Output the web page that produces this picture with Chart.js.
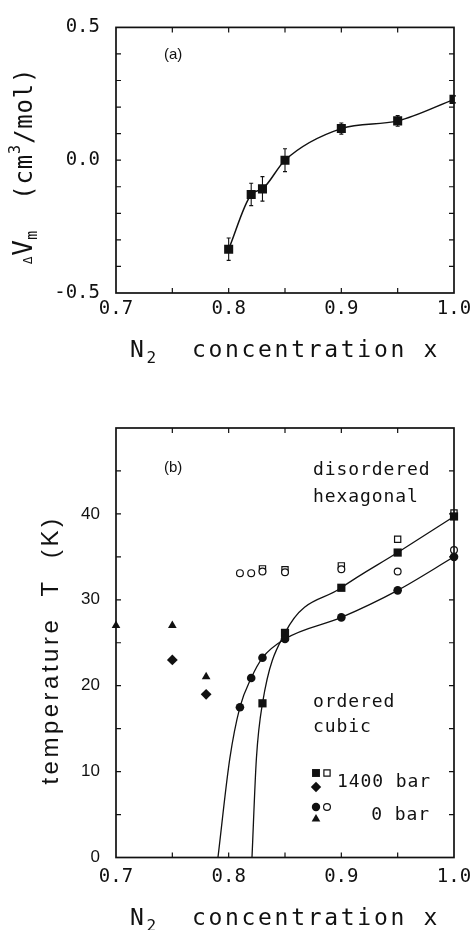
<!DOCTYPE html>
<html>
<head>
<meta charset="utf-8">
<script src="https://cdn.jsdelivr.net/npm/chart.js@4.4.0/dist/chart.umd.min.js"></script>
<style>
  html, body { margin: 0; padding: 0; background: #fff; }
  #page { position: relative; width: 472px; height: 930px; }
  #chartA { position: absolute; left: 0; top: 0; }
  #chartB { position: absolute; left: 0; top: 400px; }
</style>
</head>
<body>
<div id="page">
  <canvas id="chartA" width="472" height="380"></canvas>
  <canvas id="chartB" width="472" height="530"></canvas>
</div>
<script>
// ---- data ----

// (a) excess molar volume vs N2 concentration
const dvX = [0.80, 0.82, 0.83, 0.85, 0.90, 0.95, 1.00];
const dvY = [-0.335, -0.129, -0.108, 0.000, 0.119, 0.148, 0.229];
const dvErr = [0.042, 0.042, 0.046, 0.043, 0.021, 0.020, 0.013];

// (b) phase diagram, 0 bar
const x0Filled = [0.81, 0.82, 0.83, 0.85, 0.90, 0.95, 1.00];
const t0Filled = [17.5, 20.9, 23.25, 25.45, 27.95, 31.1, 35.0];
const x0Open = [0.81, 0.82, 0.83, 0.85, 0.90, 0.95, 1.00];
const t0Open = [33.1, 33.1, 33.3, 33.2, 33.55, 33.3, 35.8];
const xTri = [0.70, 0.75, 0.78];
const tTri = [27.0, 27.0, 21.05];

// (b) phase diagram, 1400 bar
const x1400Filled = [0.83, 0.85, 0.90, 0.95, 1.00];
const t1400Filled = [17.95, 26.15, 31.4, 35.5, 39.7];
const x1400Open = [0.83, 0.85, 0.90, 0.95, 1.00];
const t1400Open = [33.6, 33.5, 33.95, 37.05, 40.1];
const xDia = [0.75, 0.78];
const tDia = [23.0, 19.0];

// drawn phase boundaries (traced)
const xCurve0 = [0.7905, 0.801, 0.81, 0.82, 0.83, 0.85, 0.90, 0.95, 1.00];
const tCurve0 = [0, 11.5, 17.5, 20.9, 23.25, 25.45, 27.95, 31.1, 35.0];
const xCurve1400 = [0.8207, 0.8246, 0.83, 0.85, 0.90, 0.95, 1.00];
const tCurve1400 = [0, 11.5, 17.95, 26.15, 31.4, 35.5, 39.7];

// axes
const xTicks = [0.7, 0.8, 0.9, 1.0];
const xMarks = [0.75, 0.8, 0.85, 0.9, 0.95];
const dvTicks = [-0.5, 0.0, 0.5];
const dvMarks = [-0.4, -0.3, -0.2, -0.1, 0.0, 0.1, 0.2, 0.3, 0.4];
const tTicks = [0, 10, 20, 30, 40];
const tMarks = [5, 10, 15, 20, 25, 30, 35, 40, 45];

// ---- styling ----
const INK = '#111';
const MONO = '"DejaVu Sans Mono", monospace';
const SANS = '"Liberation Sans", Arial, sans-serif';
const TICK = 5;

const pts = (xs, ys) => xs.map((x, i) => ({ x: x, y: ys[i] }));

// draw text piece by piece, with letter spacing and sub/superscripts
function drawRich(ctx, pieces, x, y, align) {
    let w = 0;
    pieces.forEach(p => {
        ctx.font = p.font;
        for (const ch of p.text) w += ctx.measureText(ch).width + (p.sp || 0);
    });
    let cx = align === 'center' ? x - w / 2 : align === 'right' ? x - w : x;
    pieces.forEach(p => {
        ctx.font = p.font;
        for (const ch of p.text) {
            ctx.fillText(ch, cx, y + (p.dy || 0));
            cx += ctx.measureText(ch).width + (p.sp || 0);
        }
    });
}

// box with inward ticks on all four sides
function framePlugin(xm, ym) {
    return {
        id: 'frame',
        afterDatasetsDraw(chart) {
            const { ctx, chartArea: a, scales: { x, y } } = chart;
            ctx.save();
            ctx.strokeStyle = INK;
            ctx.lineWidth = 1.2;
            ctx.beginPath();
            xm.forEach(v => {
                const px = x.getPixelForValue(v);
                ctx.moveTo(px, a.bottom); ctx.lineTo(px, a.bottom - TICK);
                ctx.moveTo(px, a.top); ctx.lineTo(px, a.top + TICK);
            });
            ym.forEach(v => {
                const py = y.getPixelForValue(v);
                ctx.moveTo(a.left, py); ctx.lineTo(a.left + TICK, py);
                ctx.moveTo(a.right, py); ctx.lineTo(a.right - TICK, py);
            });
            ctx.stroke();
            ctx.lineWidth = 1.7;
            ctx.strokeRect(a.left, a.top, a.right - a.left, a.bottom - a.top);
            ctx.restore();
        }
    };
}

// text notes + axis titles
function textPlugin(draw) {
    return {
        id: 'texts',
        afterDraw(chart) {
            const ctx = chart.ctx;
            ctx.save();
            ctx.fillStyle = INK;
            ctx.textBaseline = 'alphabetic';
            ctx.textAlign = 'left';
            draw(ctx, chart);
            ctx.restore();
        }
    };
}

function axisX(h, pad) {
    return {
        type: 'linear', min: 0.7, max: 1.0,
        afterBuildTicks: s => { s.ticks = xTicks.map(v => ({ value: v })); },
        afterFit: s => { s.height = h; s.paddingLeft = 0; s.paddingRight = 0; },
        grid: { display: false, drawTicks: false },
        border: { display: false },
        ticks: {
            callback: v => v.toFixed(1), color: INK, maxRotation: 0, autoSkip: false,
            padding: pad, font: { family: MONO, size: 19 }
        }
    };
}

function axisY(min, max, ticks, fmt, font) {
    return {
        type: 'linear', min: min, max: max,
        afterBuildTicks: s => { s.ticks = ticks.map(v => ({ value: v })); },
        afterFit: s => { s.width = 116; },
        grid: { display: false, drawTicks: false },
        border: { display: false },
        ticks: { callback: fmt, color: INK, padding: 16, font: font }
    };
}

const baseOptions = {
    responsive: false,
    animation: false,
    events: [],
    plugins: { legend: { display: false }, tooltip: { enabled: false } }
};

// ---- (a) ----
const errorBars = {
    id: 'errorBars',
    afterDatasetsDraw(chart) {
        const { ctx, scales: { x, y } } = chart;
        ctx.save();
        ctx.strokeStyle = INK;
        ctx.lineWidth = 1.1;
        ctx.beginPath();
        dvX.forEach((v, i) => {
            const px = x.getPixelForValue(v);
            const lo = y.getPixelForValue(dvY[i] - dvErr[i]);
            const hi = y.getPixelForValue(dvY[i] + dvErr[i]);
            ctx.moveTo(px, lo); ctx.lineTo(px, hi);
            ctx.moveTo(px - 2, lo); ctx.lineTo(px + 2, lo);
            ctx.moveTo(px - 2, hi); ctx.lineTo(px + 2, hi);
        });
        ctx.stroke();
        ctx.restore();
    }
};

new Chart(document.getElementById('chartA'), {
    type: 'scatter',
    data: {
        datasets: [
            {
                data: pts(dvX, dvY), showLine: true, pointRadius: 0,
                borderColor: INK, borderWidth: 1.5, cubicInterpolationMode: 'monotone'
            },
            {
                data: pts(dvX, dvY), showLine: false, pointStyle: 'rect', pointRadius: 6.4,
                backgroundColor: INK, borderColor: INK, borderWidth: 0
            }
        ]
    },
    options: Object.assign({}, baseOptions, {
        layout: { padding: { top: 14, right: 18, left: 0, bottom: 0 } },
        scales: {
            x: axisX(87, 5),
            y: axisY(-0.5, 0.5, dvTicks, v => v.toFixed(1), { family: MONO, size: 19 })
        }
    }),
    plugins: [
        errorBars,
        framePlugin(xMarks, dvMarks),
        textPlugin((ctx, chart) => {
            const a = chart.chartArea;
            ctx.font = '15px ' + SANS;
            ctx.fillText('(a)', 164, 59);
            const big = '23px ' + MONO, sub = '16px ' + MONO;
            drawRich(ctx, [
                { text: 'N', font: big, sp: 2.7 },
                { text: '2', font: sub, dy: 6, sp: 2.7 },
                { text: '  concentration x', font: big, sp: 2.7 }
            ], (a.left + a.right) / 2, 357, 'center');
            ctx.translate(32, 166);
            ctx.rotate(-Math.PI / 2);
            const yb = '24px ' + MONO, ys = '15px ' + MONO;
            drawRich(ctx, [
                { text: 'Δ', font: '13px ' + MONO, sp: 0.5 },
                { text: 'V', font: '26px ' + MONO, sp: 0.5 },
                { text: 'm', font: ys, dy: 5, sp: 0.5 },
                { text: '  (cm', font: yb, sp: 0.8 },
                { text: '3', font: ys, dy: -12, sp: 0.8 },
                { text: '/mol)', font: yb, sp: 0.8 }
            ], 0, 0, 'center');
        })
    ]
});

// ---- (b) ----
const legendItems = [
    { x: 316, y: 373, style: 'rect', r: 5.6, fill: true },
    { x: 327, y: 373, style: 'rect', r: 4.4, fill: false },
    { x: 316, y: 387, style: 'rectRot', r: 5.2, fill: true },
    { x: 316, y: 407, style: 'circle', r: 4.2, fill: true },
    { x: 327, y: 407, style: 'circle', r: 3.4, fill: false },
    { x: 316, y: 419, style: 'triangle', r: 5, fill: true }
];

new Chart(document.getElementById('chartB'), {
    type: 'scatter',
    data: {
        datasets: [
            {
                data: pts(xCurve0, tCurve0), showLine: true, pointRadius: 0,
                borderColor: INK, borderWidth: 1.3, cubicInterpolationMode: 'monotone'
            },
            {
                data: pts(xCurve1400, tCurve1400), showLine: true, pointRadius: 0,
                borderColor: INK, borderWidth: 1.3, cubicInterpolationMode: 'monotone'
            },
            {
                data: pts(x0Open, t0Open), pointStyle: 'circle', pointRadius: 3.4,
                backgroundColor: '#fff', borderColor: INK, borderWidth: 1.2, clip: false
            },
            {
                data: pts(x1400Open, t1400Open), pointStyle: 'rect', pointRadius: 4.4,
                backgroundColor: 'rgba(255,255,255,0)', borderColor: INK, borderWidth: 1.2, clip: false
            },
            {
                data: pts(x0Filled, t0Filled), pointStyle: 'circle', pointRadius: 4.3,
                backgroundColor: INK, borderColor: INK, borderWidth: 0, clip: false
            },
            {
                data: pts(x1400Filled, t1400Filled), pointStyle: 'rect', pointRadius: 5.8,
                backgroundColor: INK, borderColor: INK, borderWidth: 0, clip: false
            },
            {
                data: pts(xTri, tTri), pointStyle: 'triangle', pointRadius: 5,
                backgroundColor: INK, borderColor: INK, borderWidth: 0, clip: false
            },
            {
                data: pts(xDia, tDia), pointStyle: 'rectRot', pointRadius: 5.4,
                backgroundColor: INK, borderColor: INK, borderWidth: 0, clip: false
            }
        ]
    },
    options: Object.assign({}, baseOptions, {
        layout: { padding: { top: 28, right: 18, left: 0, bottom: 0 } },
        scales: {
            x: axisX(72.5, 8),
            y: axisY(0, 50, tTicks, v => String(v), { family: SANS, size: 17 })
        }
    }),
    plugins: [
        framePlugin(xMarks, tMarks),
        textPlugin((ctx, chart) => {
            const a = chart.chartArea;
            ctx.font = '15px ' + SANS;
            ctx.fillText('(b)', 164, 72);
            const note = '18px ' + MONO;
            drawRich(ctx, [{ text: 'disordered', font: note, sp: 0.9 }], 313, 75, 'left');
            drawRich(ctx, [{ text: 'hexagonal', font: note, sp: 0.9 }], 313, 102, 'left');
            drawRich(ctx, [{ text: 'ordered', font: note, sp: 0.9 }], 313, 307, 'left');
            drawRich(ctx, [{ text: 'cubic', font: note, sp: 0.9 }], 313, 332, 'left');
            drawRich(ctx, [{ text: '1400 bar', font: note, sp: 0.9 }], 337, 387, 'left');
            drawRich(ctx, [{ text: '0 bar', font: note, sp: 0.9 }], 430, 420, 'right');

            legendItems.forEach(it => {
                ctx.fillStyle = it.fill ? INK : '#fff';
                ctx.strokeStyle = INK;
                Chart.helpers.drawPoint(ctx, {
                    pointStyle: it.style, radius: it.r, rotation: 0,
                    borderWidth: it.fill ? 0 : 1.2
                }, it.x, it.y);
            });
            ctx.fillStyle = INK;

            const big = '23px ' + MONO, sub = '16px ' + MONO;
            drawRich(ctx, [
                { text: 'N', font: big, sp: 2.7 },
                { text: '2', font: sub, dy: 6, sp: 2.7 },
                { text: '  concentration x', font: big, sp: 2.7 }
            ], (a.left + a.right) / 2, 525, 'center');

            ctx.translate(58, 250);
            ctx.rotate(-Math.PI / 2);
            drawRich(ctx, [{ text: 'temperature  T  (K)', font: '24px ' + SANS, sp: 3.5 }], 0, 0, 'center');
        })
    ]
});
</script>
</body>
</html>
